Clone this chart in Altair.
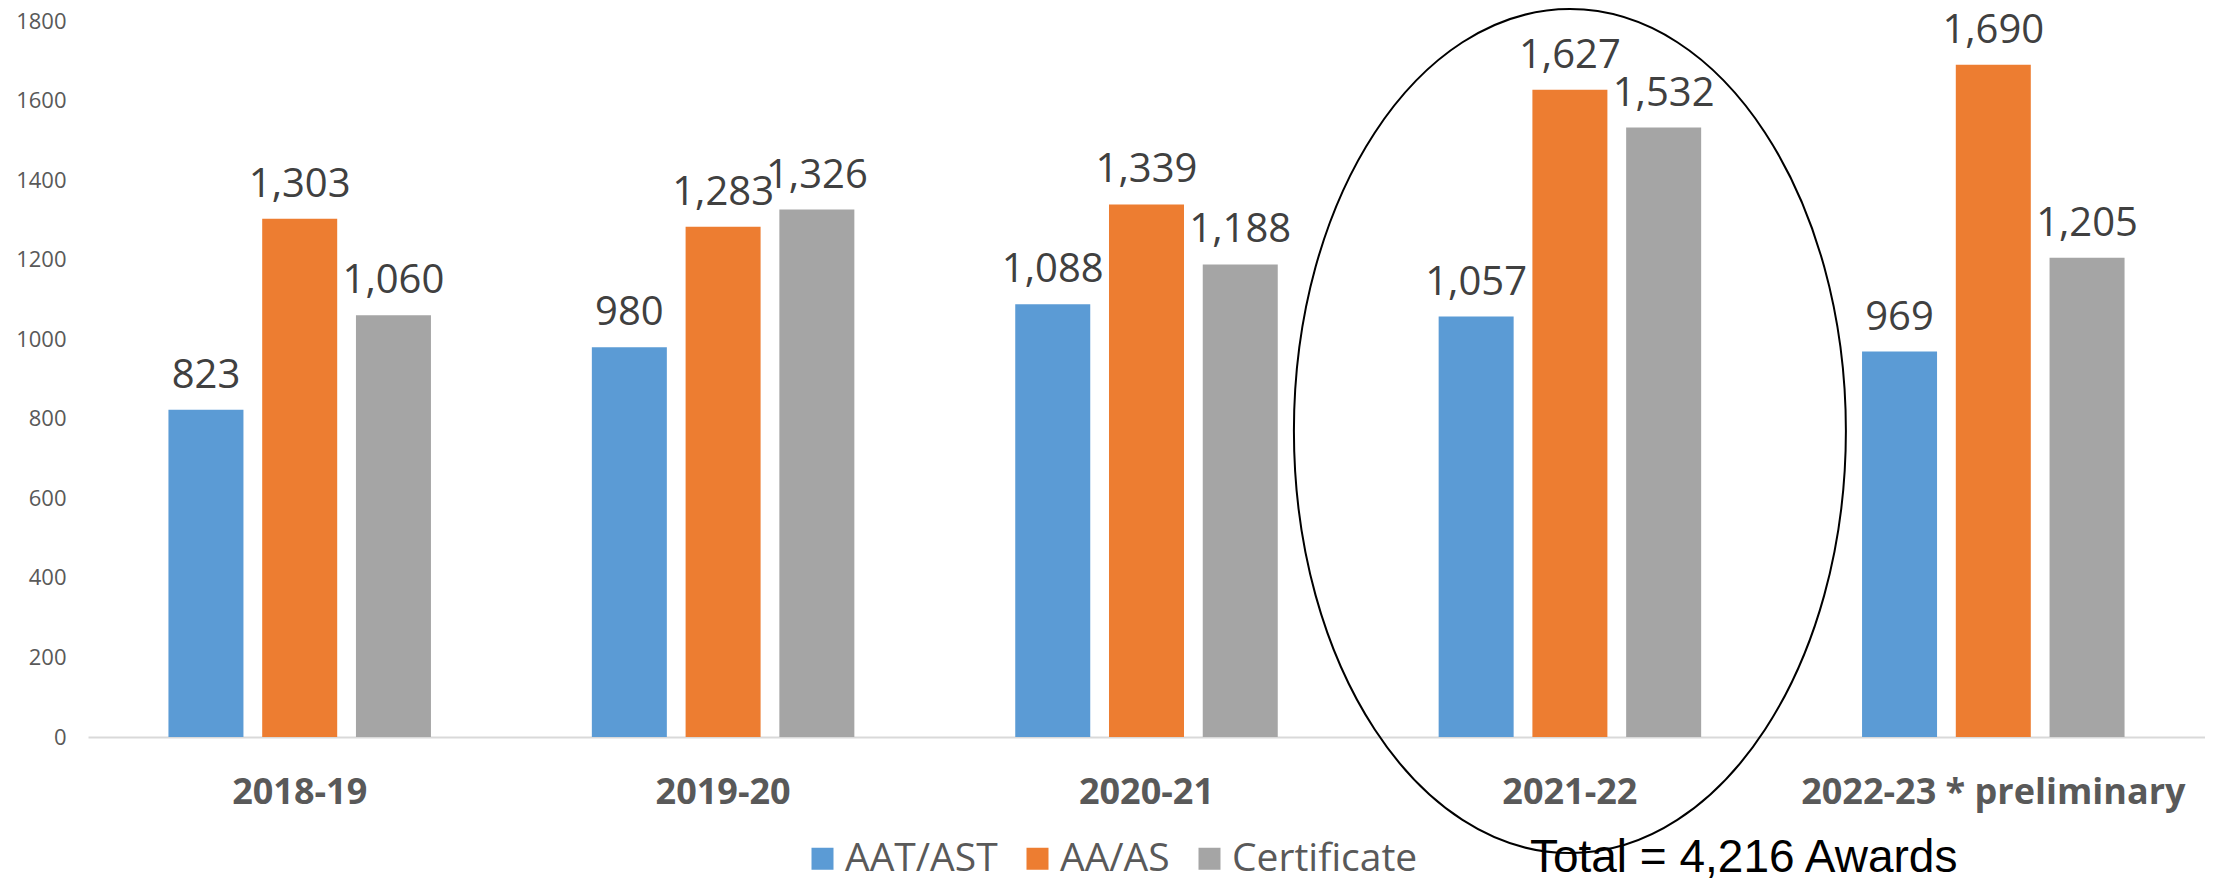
import altair as alt
import pandas as pd

# ---- data ----
years = ["2018-19", "2019-20", "2020-21", "2021-22", "2022-23 * preliminary"]
series = ["AAT/AST", "AA/AS", "Certificate"]
aat_ast = [823, 980, 1088, 1057, 969]
aa_as = [1303, 1283, 1339, 1627, 1690]
certificate = [1060, 1326, 1188, 1532, 1205]
colors = ["#5B9BD5", "#ED7D31", "#A5A5A5"]
y_ticks = [0, 200, 400, 600, 800, 1000, 1200, 1400, 1600, 1800]

highlight_year = ["2021-22"]
highlight_center = [769]
total_text = ["Total = 4,216 Awards"]

rows = []
for i, yr in enumerate(years):
    for s, vals in zip(series, [aat_ast, aa_as, certificate]):
        rows.append({"year": yr, "series": s, "value": vals[i]})
df = pd.DataFrame(rows)

ell_df = pd.DataFrame({"year": highlight_year, "center": highlight_center})
tot_df = pd.DataFrame({"year": highlight_year, "label": total_text})

x_enc = alt.X("year:N", sort=years, title=None,
              scale=alt.Scale(paddingInner=0.38, paddingOuter=0.19),
              axis=alt.Axis(labelAngle=0, labelFont="Open Sans", labelFontWeight="bold",
                            labelFontSize=36, labelColor="#595959", labelPadding=38,
                            ticks=False, domainColor="#D9D9D9", domainWidth=2,
                            labelLimit=600))
y_enc = alt.Y("value:Q", title=None,
              scale=alt.Scale(domain=[0, 1800], nice=False),
              axis=alt.Axis(values=y_ticks, format="d", grid=False, domain=False,
                            ticks=False, labelFont="Open Sans", labelFontSize=22,
                            labelColor="#595959", labelPadding=22))
xoff = alt.XOffset("series:N", sort=series, scale=alt.Scale(paddingInner=0.2, paddingOuter=0))

bars = alt.Chart(df).mark_bar().encode(
    x=x_enc,
    y=y_enc,
    xOffset=xoff,
    color=alt.Color("series:N", sort=series,
                    scale=alt.Scale(domain=series, range=colors),
                    legend=alt.Legend(orient="none", legendX=715, legendY=818,
                                      direction="horizontal", title=None,
                                      symbolType="square", symbolSize=484,
                                      symbolStrokeWidth=0, labelFont="Open Sans",
                                      labelFontSize=39, labelColor="#595959",
                                      labelOffset=3, columnPadding=20,
                                      labelLimit=400, padding=0)),
)

labels = alt.Chart(df).mark_text(font="Open Sans", fontSize=40, color="#404040",
                                 baseline="alphabetic", dy=-22).encode(
    x=alt.X("year:N", sort=years),
    y=alt.Y("value:Q"),
    xOffset=alt.XOffset("series:N", sort=series),
    text=alt.Text("value:Q", format=","),
)

ellipse_path = ("M 0,-1 C 0.3612,-1 0.654,-0.5523 0.654,0 "
                "C 0.654,0.5523 0.3612,1 0,1 "
                "C -0.3612,1 -0.654,0.5523 -0.654,0 "
                "C -0.654,-0.5523 -0.3612,-1 0,-1 Z")
ellipse = alt.Chart(ell_df).mark_point(shape=ellipse_path, filled=False, size=712336,
                                       stroke="black", strokeWidth=2, opacity=1,
                                       clip=False).encode(
    x=alt.X("year:N", sort=years),
    y=alt.Y("center:Q"),
)

total = alt.Chart(tot_df).mark_text(font="Liberation Sans", fontSize=46, color="black",
                                    align="left", baseline="alphabetic", dx=-40).encode(
    x=alt.X("year:N", sort=years),
    y=alt.value(851),
    text="label:N",
)

chart = alt.layer(bars, labels, ellipse, total).properties(
    width=2117, height=716,
    autosize=alt.AutoSizeParams(type="none"),
    padding={"left": 80, "top": 13, "right": 0, "bottom": 145},
    background="white",
).configure_view(stroke=None)

chart.save("out.html", embed_options={"renderer": "svg", "actions": False})
